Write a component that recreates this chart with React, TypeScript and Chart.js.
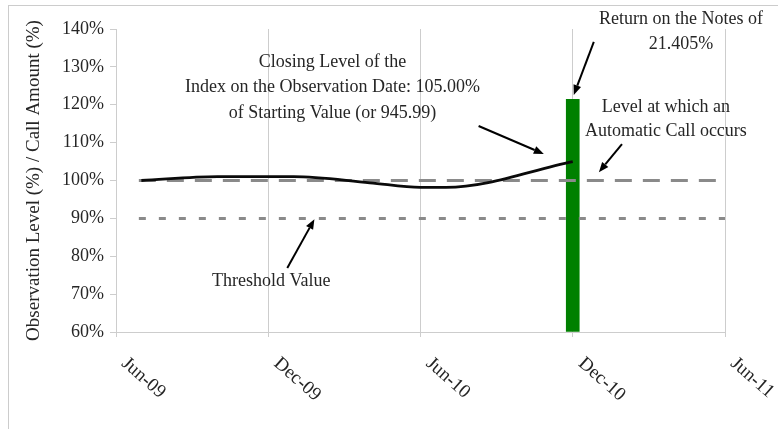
import React, { useEffect, useRef } from "react";
import { Chart, registerables } from "chart.js";

Chart.register(...registerables);

// ---- data ----
const obsMonths = [1, 4, 7, 10, 12, 13, 18]; // months after Jun-09
const obsLevels = [100, 101, 101, 99.4, 98.2, 98.2, 105];
const callMonths = [18];
const callAmounts = [121.405];
const autoCallLevel = [100, 100];
const thresholdLevel = [90, 90];
const refLineMonths = [0.9, 24];
const xTickLabels = ["Jun-09", "Dec-09", "Jun-10", "Dec-10", "Jun-11"];
const yTickValues = [60, 70, 80, 90, 100, 110, 120, 130, 140];

const closingNote = ["Closing Level of the", "Index on the Observation Date: 105.00%", "of Starting Value (or 945.99)"];
const returnNote = ["Return on the Notes of", "21.405%"];
const levelNote = ["Level at which an", "Automatic Call occurs"];
const thresholdNote = ["Threshold Value"];

// annotation anchors in data coordinates (month, percent)
const notes = [
  { lines: closingNote, x: 8.53, y: 131.3, step: 6.75 },
  { lines: returnNote, x: 22.27, y: 142.6, step: 6.6 },
  { lines: levelNote, x: 21.67, y: 119.4, step: 6.35 },
  { lines: thresholdNote, x: 6.12, y: 73.5, step: 0 },
];
const arrows = [
  { x1: 14.29, y1: 114.4, x2: 16.86, y2: 107.0 },
  { x1: 18.83, y1: 136.6, x2: 18.04, y2: 122.6 },
  { x1: 19.94, y1: 109.6, x2: 19.03, y2: 102.2 },
  { x1: 6.75, y1: 76.9, x2: 7.82, y2: 89.8 },
];

const FONT = "'Liberation Serif', 'Times New Roman', serif";
const TEXT = "#262626";
const GRID = "#cdcdcd";

const decor = {
  id: "decor",
  beforeDraw(chart: any) {
    const ctx = chart.ctx;
    ctx.save();
    ctx.fillStyle = "#ffffff";
    ctx.fillRect(0, 0, chart.width, chart.height);
    ctx.strokeStyle = "#cccccc";
    ctx.lineWidth = 1;
    ctx.strokeRect(8.5, 5.5, chart.width + 20, chart.height + 20);
    ctx.restore();
  },
  afterDraw(chart: any) {
    const ctx = chart.ctx;
    const xs = chart.scales.x;
    const ys = chart.scales.y;
    ctx.save();
    // x tick labels, rotated downward
    ctx.font = `19px ${FONT}`;
    ctx.fillStyle = TEXT;
    ctx.textAlign = "left";
    ctx.textBaseline = "middle";
    xs.ticks.forEach((t: any, i: number) => {
      const px = xs.getPixelForValue(t.value);
      ctx.save();
      ctx.translate(px + 8, ys.bottom + 29);
      ctx.rotate(0.72);
      ctx.fillText(xTickLabels[i] ?? "", 0, 0);
      ctx.restore();
    });
    // notes
    ctx.font = `18px ${FONT}`;
    ctx.textAlign = "center";
    notes.forEach((n) => {
      n.lines.forEach((line, i) => {
        const px = xs.getPixelForValue(n.x);
        const py = ys.getPixelForValue(n.y - i * n.step);
        ctx.fillText(line, px, py);
      });
    });
    // arrows
    ctx.strokeStyle = "#000";
    ctx.fillStyle = "#000";
    ctx.lineWidth = 2;
    arrows.forEach((a) => {
      const x1 = xs.getPixelForValue(a.x1);
      const y1 = ys.getPixelForValue(a.y1);
      const x2 = xs.getPixelForValue(a.x2);
      const y2 = ys.getPixelForValue(a.y2);
      const ang = Math.atan2(y2 - y1, x2 - x1);
      const hl = 10, hw = 4;
      const bx = x2 - hl * Math.cos(ang);
      const by = y2 - hl * Math.sin(ang);
      ctx.beginPath();
      ctx.moveTo(x1, y1);
      ctx.lineTo(bx, by);
      ctx.stroke();
      ctx.beginPath();
      ctx.moveTo(x2, y2);
      ctx.lineTo(bx + hw * Math.sin(ang), by - hw * Math.cos(ang));
      ctx.lineTo(bx - hw * Math.sin(ang), by + hw * Math.cos(ang));
      ctx.closePath();
      ctx.fill();
    });
    ctx.restore();
  },
};

export default function App() {
  const ref = useRef<HTMLCanvasElement | null>(null);
  useEffect(() => {
    if (!ref.current) return;
    const chart = new Chart(ref.current, {
      type: "line",
      data: {
        datasets: [
          {
            type: "line",
            label: "Observation Level",
            data: obsMonths.map((m, i) => ({ x: m, y: obsLevels[i] })),
            borderColor: "#0a0a0a",
            borderWidth: 2.8,
            pointRadius: 0,
            cubicInterpolationMode: "monotone",
            order: 0,
          },
          {
            type: "line",
            label: "Automatic Call Level",
            data: refLineMonths.map((m, i) => ({ x: m, y: autoCallLevel[i] })),
            borderColor: "#8a8a8a",
            borderWidth: 3,
            borderDash: [17, 11],
            pointRadius: 0,
            order: 1,
          },
          {
            type: "line",
            label: "Threshold",
            data: refLineMonths.map((m, i) => ({ x: m, y: thresholdLevel[i] })),
            borderColor: "#8a8a8a",
            borderWidth: 3,
            borderDash: [7, 13],
            pointRadius: 0,
            order: 2,
          },
          {
            type: "bar",
            label: "Call Amount",
            data: callMonths.map((m, i) => ({ x: m, y: callAmounts[i] })),
            backgroundColor: "#008000",
            barThickness: 13,
            base: 60,
            order: 10,
          } as any,
        ],
      },
      options: {
        animation: false,
        responsive: false,
        maintainAspectRatio: false,
        layout: { padding: { left: 0, top: 29, right: 53, bottom: 0 } },
        plugins: { legend: { display: false }, tooltip: { enabled: false } },
        scales: {
          x: {
            type: "linear",
            min: 0,
            max: 24,
            offset: false,
            ticks: { stepSize: 6, display: false },
            grid: { color: GRID, lineWidth: 1, drawTicks: true, tickLength: 5, offset: false },
            border: { color: GRID },
            afterFit: (s: any) => {
              s.height = 97;
            },
          },
          y: {
            min: 60,
            max: 140,
            afterBuildTicks: (s: any) => {
              s.ticks = yTickValues.map((v) => ({ value: v }));
            },
            ticks: {
              callback: (v: any) => `${v}%`,
              font: { family: FONT, size: 18 },
              color: TEXT,
              padding: 6,
            },
            grid: { drawOnChartArea: false, drawTicks: true, tickLength: 6, color: GRID },
            border: { color: GRID },
            title: {
              display: true,
              text: "Observation Level (%) / Call Amount (%)",
              font: { family: FONT, size: 19 },
              color: TEXT,
              padding: { top: 23, bottom: 0 },
            },
            afterFit: (s: any) => {
              s.width = 116;
            },
          },
        },
      },
      plugins: [decor],
    });
    return () => chart.destroy();
  }, []);
  return (
    <div style={{ position: "fixed", left: 0, top: 0, width: 778, height: 429 }}>
      <canvas ref={ref} width={778} height={429} />
    </div>
  );
}
